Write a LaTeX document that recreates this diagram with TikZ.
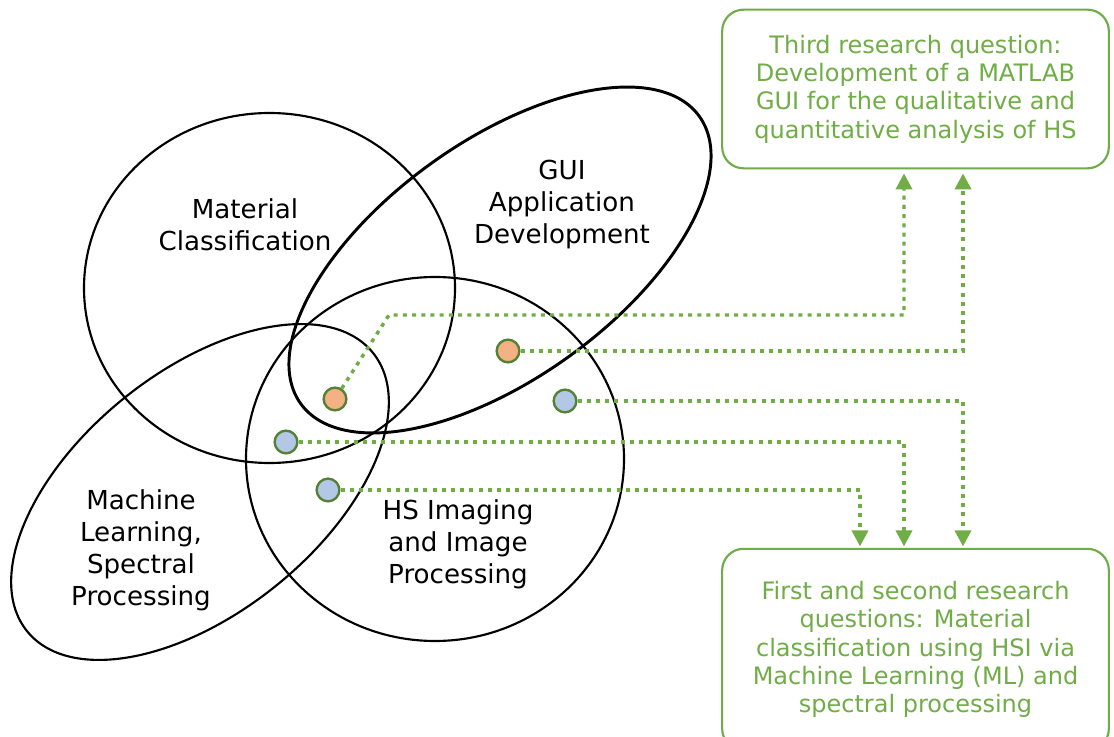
\documentclass[tikz,border=0pt]{standalone}
\usepackage{fontspec}
\setmainfont{DejaVu Sans}
\usetikzlibrary{arrows.meta}
\definecolor{grn}{HTML}{70AD47}
\definecolor{dgrn}{HTML}{548235}
\definecolor{org}{HTML}{F4B183}
\definecolor{blu}{HTML}{B4C7E7}
\begin{document}
\begin{tikzpicture}[x=0.75pt,y=-0.75pt,
  venn/.style={draw=black,line width=1.6pt},
  vl/.style={align=center,text=black,font={\fontsize{19.6}{24}\selectfont},inner sep=0pt},
  dotn/.style={circle,draw=dgrn,line width=1.8pt,minimum size=17pt,inner sep=0pt},
  box/.style={draw=grn,line width=1.6pt,rounded corners=16pt,align=center,text=grn,
    font={\fontsize{18}{21.3}\selectfont},inner sep=0pt},
  conn/.style={draw=grn,line width=2.6pt,dash pattern=on 3pt off 3.9pt,
    -{Triangle[length=12pt,width=12pt]}}]
\clip (0,0) rectangle (1114,737);
\fill[white] (0,0) rectangle (1114,737);
% Venn ellipses
\draw[venn] (269.5,288) ellipse [x radius=185.5, y radius=175];
\draw[venn] (435,459) ellipse [x radius=189, y radius=182];
\draw[venn,line width=2.2pt,rotate around={35.8:(500,260)}] (500,260) ellipse [x radius=245.7, y radius=118.6];
\draw[venn,rotate around={38.8:(200,492)}] (200,492) ellipse [x radius=222, y radius=120.7];
% labels
\node[vl] (mc) at (245,225) {Material\\Classification};
\node[vl] (gui) at (562,205) {GUI\\Application\\Development};
\node[vl] (ml) at (141,550) {Machine\\Learning,\\Spectral\\Processing};
\node[vl] (hs) at (458,544) {HS Imaging\\and Image\\Processing};
% boxes
\node[box,minimum width=290pt,minimum height=119pt] (t) at (915.5,89)
  {Third research question:\\Development of a MATLAB\\GUI for the qualitative and\\quantitative analysis of HS};
\node[box,minimum width=290pt,minimum height=151pt] (f) at (915.5,649.5)
  {First and second research\\questions: Material\\classification using HSI via\\Machine Learning (ML) and\\spectral processing};
% dots
\node[dotn,fill=org] (o1) at (335,399) {};
\node[dotn,fill=org] (o2) at (508,351) {};
\node[dotn,fill=blu] (b1) at (565,401) {};
\node[dotn,fill=blu] (b2) at (286,442) {};
\node[dotn,fill=blu] (b3) at (328,490) {};
% connectors
\coordinate (k1) at (389,315);
\coordinate (xa) at (904,0);
\coordinate (xb) at (963,0);
\coordinate (xc) at (860,0);
\draw[conn,shorten >=3pt] (o1) -- (k1) -| (t.south -| xa);
\draw[conn,shorten >=3pt] (o2) -| (t.south -| xb);
\draw[conn,shorten >=1pt] (b1) -| (f.north -| xb);
\draw[conn,shorten >=1pt] (b2) -| (f.north -| xa);
\draw[conn,shorten >=1pt] (b3) -| (f.north -| xc);
\end{tikzpicture}
\end{document}
